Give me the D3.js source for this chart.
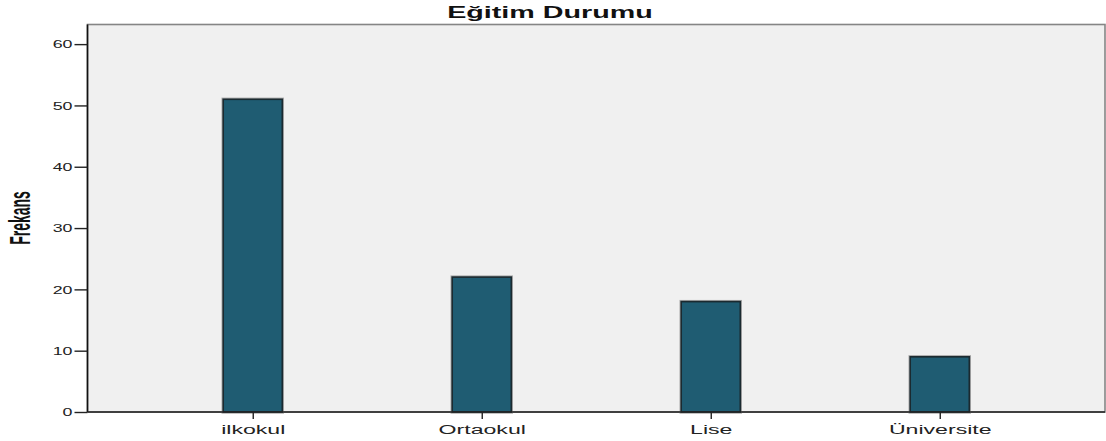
<!DOCTYPE html>
<html>
<head>
<meta charset="utf-8">
<script src="https://cdn.jsdelivr.net/npm/d3@7"></script>
<style>
  html, body { margin: 0; padding: 0; background: #ffffff; }
  svg { display: block; font-family: "Liberation Sans", Arial, sans-serif; }
</style>
</head>
<body>
<svg id="chart" width="1106" height="441"></svg>
<script>
// Education level frequencies
const categories = ["ilkokul", "Ortaokul", "Lise", "Üniversite"];
const frequencies = [51, 22, 18, 9];
const yTicks = [0, 10, 20, 30, 40, 50, 60];
const titleText = "Eğitim Durumu";
const yLabel = "Frekans";

const svg = d3.select("#chart");
const plot = { left: 87.5, right: 1105, top: 24.5, bottom: 412 };

const x = d3.scalePoint()
  .domain(categories)
  .range([plot.left, plot.right])
  .padding(0.7216);

const y = d3.scaleLinear()
  .domain([0, 63.2])
  .range([plot.bottom, plot.top]);

const barWidth = x.step() * 0.258;

// stretch helper: widen text horizontally around its anchor point
function stretch(sel, sx) {
  sel.each(function () {
    const t = d3.select(this);
    const tx = +t.attr("x") || 0;
    t.attr("transform", `translate(${tx},0) scale(${sx},1) translate(${-tx},0)`);
  });
}

// plot background and frame
svg.append("rect")
  .attr("x", plot.left).attr("y", plot.top)
  .attr("width", plot.right - plot.left)
  .attr("height", plot.bottom - plot.top)
  .attr("fill", "#f0f0f0")
  .attr("stroke", "#858585")
  .attr("stroke-width", 1.6);

const barData = categories.map((c, i) => ({ c, v: frequencies[i] }));

// soft grey halo around each bar
svg.append("g")
  .selectAll("rect")
  .data(barData)
  .join("rect")
  .attr("x", d => x(d.c) - barWidth / 2)
  .attr("y", d => y(d.v))
  .attr("width", barWidth)
  .attr("height", d => y(0) - y(d.v))
  .attr("fill", "none")
  .attr("stroke", "#a8a8a8")
  .attr("stroke-width", 3.4);

// bars
svg.append("g")
  .selectAll("rect")
  .data(barData)
  .join("rect")
  .attr("x", d => x(d.c) - barWidth / 2)
  .attr("y", d => y(d.v))
  .attr("width", barWidth)
  .attr("height", d => y(0) - y(d.v))
  .attr("fill", "#1f5c72")
  .attr("stroke", "#1b2a30")
  .attr("stroke-width", 1.6);

// y axis
const yAxis = svg.append("g")
  .attr("transform", `translate(${plot.left},0)`)
  .call(d3.axisLeft(y).tickValues(yTicks).tickSize(13).tickPadding(2).tickSizeOuter(0));
yAxis.select(".domain").attr("stroke", "#111").attr("stroke-width", 1.6)
  .attr("d", `M0,${plot.top}V${plot.bottom}`);
yAxis.selectAll(".tick line").attr("stroke", "#222").attr("stroke-width", 1.4);
yAxis.selectAll(".tick text")
  .attr("font-size", 11.5)
  .attr("fill", "#222")
  .attr("font-family", "Liberation Sans, Arial, sans-serif")
  .call(stretch, 1.55);

// x axis
const xAxis = svg.append("g")
  .attr("transform", `translate(0,${plot.bottom})`)
  .call(d3.axisBottom(x).tickSize(7).tickPadding(6).tickSizeOuter(0));
xAxis.select(".domain").attr("stroke", "#222").attr("stroke-width", 1.6)
  .attr("d", `M${plot.left},0H${plot.right}`);
xAxis.selectAll(".tick line").attr("stroke", "#222").attr("stroke-width", 1.4);
xAxis.selectAll(".tick text")
  .attr("font-size", 12.5)
  .attr("fill", "#222")
  .attr("font-family", "Liberation Sans, Arial, sans-serif")
  .call(stretch, 1.85);

// title
svg.append("text")
  .attr("x", 550).attr("y", 18)
  .attr("text-anchor", "middle")
  .attr("font-size", 16.5)
  .attr("font-weight", "bold")
  .attr("fill", "#111")
  .text(titleText)
  .call(stretch, 1.74);

// y axis label, rotated and narrow
svg.append("text")
  .attr("transform", "translate(30,218) rotate(-90) scale(1,2.05)")
  .attr("text-anchor", "middle")
  .attr("font-size", 14)
  .attr("font-weight", "bold")
  .attr("fill", "#111")
  .text(yLabel);
</script>
</body>
</html>
